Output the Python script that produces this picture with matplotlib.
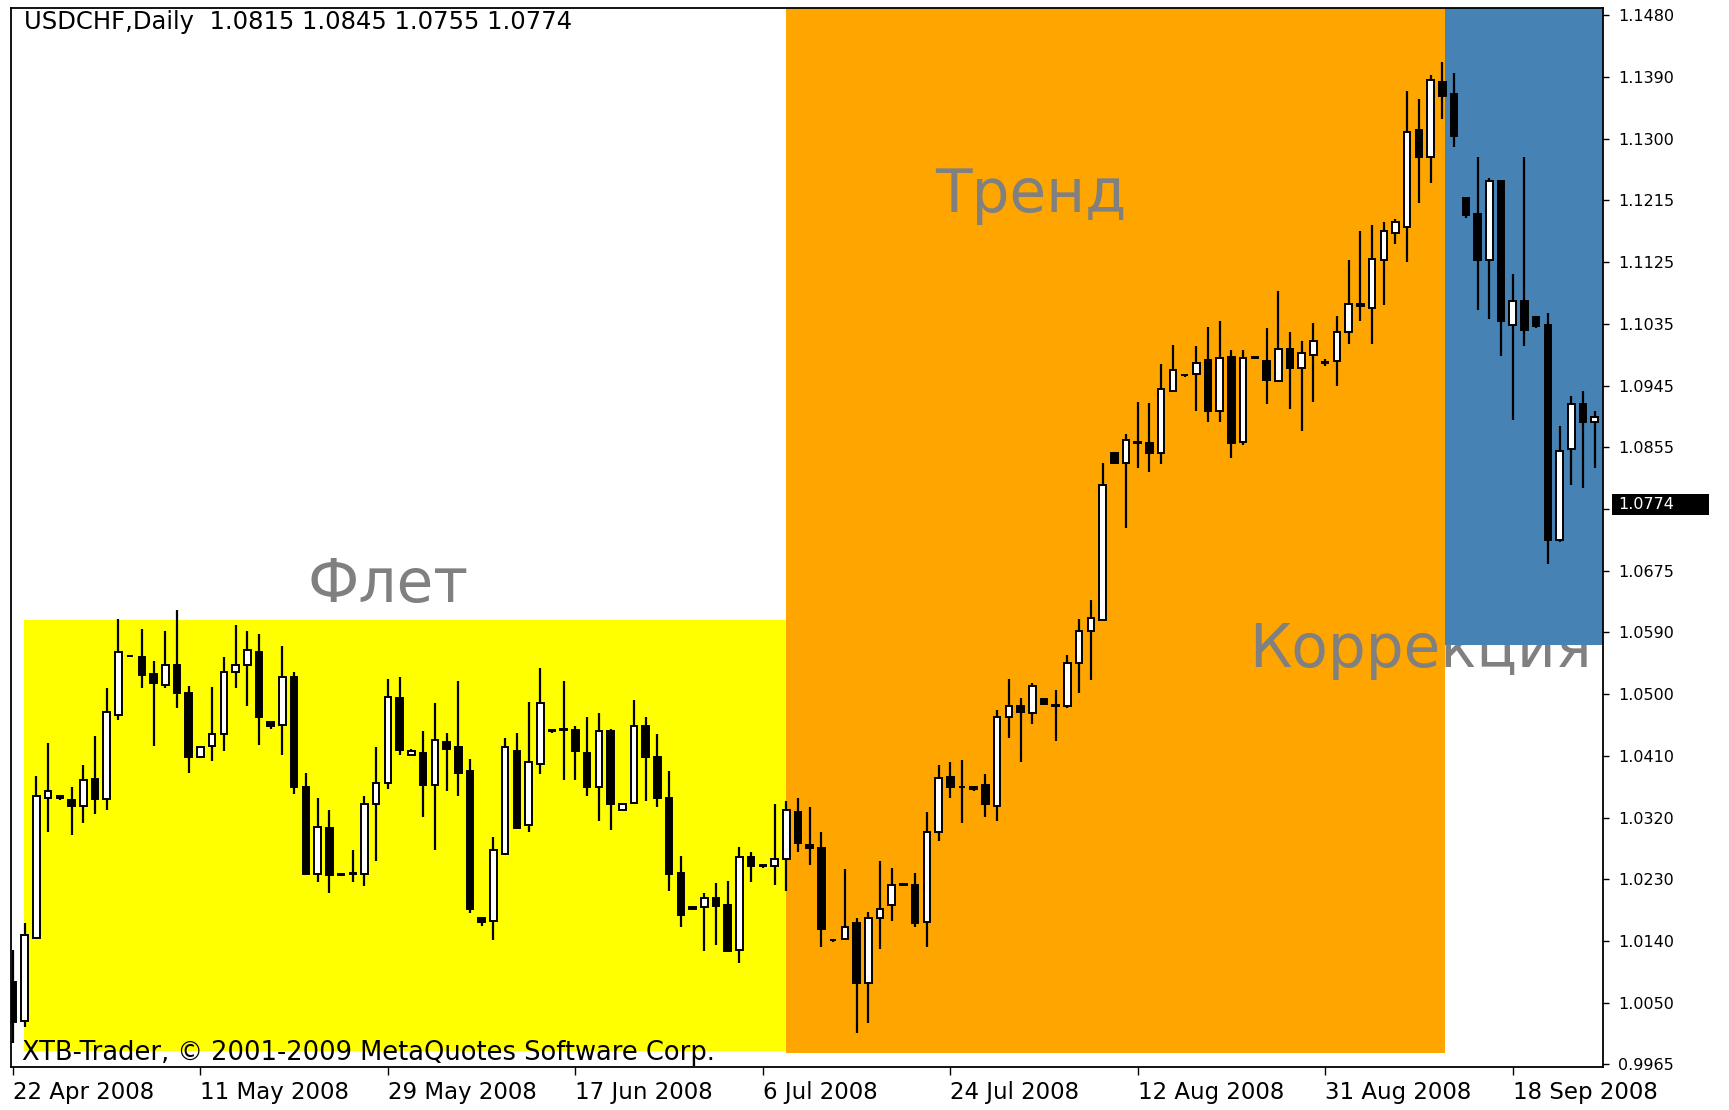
import numpy as np
import matplotlib
matplotlib.use("Agg")
import matplotlib.pyplot as plt
from matplotlib.patches import Rectangle
from matplotlib.transforms import blended_transform_factory

# USDCHF daily bars (open, high, low, close)
opens = [1.0084, 1.0027, 1.0147, 1.0349, 1.0352, 1.0347, 1.0338, 1.0377, 1.0348, 1.0470,
         1.0555, 1.0553, 1.0528, 1.0513, 1.0542, 1.0501, 1.0409, 1.0425, 1.0442, 1.0532,
         1.0542, 1.0561, 1.0459, 1.0455, 1.0524, 1.0366, 1.0240, 1.0306, 1.0239, 1.0241,
         1.0240, 1.0341, 1.0371, 1.0494, 1.0412, 1.0415, 1.0368, 1.0430, 1.0423, 1.0388,
         1.0177, 1.0172, 1.0269, 1.0418, 1.0311, 1.0399, 1.0448, 1.0449, 1.0448, 1.0414,
         1.0365, 1.0446, 1.0333, 1.0343, 1.0453, 1.0409, 1.0349, 1.0241, 1.0192, 1.0192,
         1.0205, 1.0195, 1.0130, 1.0265, 1.0252, 1.0251, 1.0262, 1.0330, 1.0282, 1.0277,
         1.0145, 1.0146, 1.0169, 1.0083, 1.0176, 1.0195, 1.0225, 1.0224, 1.0171, 1.0301,
         1.0380, 1.0366, 1.0366, 1.0368, 1.0338, 1.0467, 1.0482, 1.0472, 1.0492, 1.0484,
         1.0482, 1.0545, 1.0591, 1.0607, 1.0848, 1.0833, 1.0863, 1.0862, 1.0848, 1.0938,
         1.0961, 1.0962, 1.0982, 1.0908, 1.0987, 1.0864, 1.0986, 1.0981, 1.0952, 1.0998,
         1.0970, 1.0990, 1.0979, 1.0981, 1.1022, 1.1063, 1.1057, 1.1126, 1.1165, 1.1174,
         1.1314, 1.1275, 1.1384, 1.1367, 1.1216, 1.1193, 1.1126, 1.1240, 1.1033, 1.1067,
         1.1044, 1.1033, 1.0722, 1.0853, 1.0918, 1.0893]
highs = [1.0130, 1.0169, 1.0381, 1.0429, 1.0353, 1.0366, 1.0398, 1.0439, 1.0508, 1.0608,
         1.0556, 1.0594, 1.0548, 1.0591, 1.0621, 1.0511, 1.0425, 1.0510, 1.0553, 1.0600,
         1.0591, 1.0586, 1.0460, 1.0569, 1.0531, 1.0386, 1.0349, 1.0333, 1.0240, 1.0274,
         1.0352, 1.0424, 1.0521, 1.0524, 1.0420, 1.0447, 1.0487, 1.0444, 1.0518, 1.0406,
         1.0178, 1.0293, 1.0437, 1.0444, 1.0488, 1.0537, 1.0449, 1.0518, 1.0454, 1.0467,
         1.0472, 1.0449, 1.0342, 1.0491, 1.0467, 1.0442, 1.0388, 1.0266, 1.0193, 1.0213,
         1.0227, 1.0230, 1.0279, 1.0272, 1.0252, 1.0341, 1.0346, 1.0349, 1.0337, 1.0300,
         1.0146, 1.0247, 1.0176, 1.0185, 1.0258, 1.0249, 1.0226, 1.0241, 1.0330, 1.0397,
         1.0401, 1.0404, 1.0367, 1.0384, 1.0477, 1.0521, 1.0494, 1.0515, 1.0493, 1.0505,
         1.0556, 1.0608, 1.0635, 1.0833, 1.0849, 1.0876, 1.0922, 1.0920, 1.0976, 1.1004,
         1.0962, 1.1002, 1.1030, 1.1039, 1.0996, 1.0996, 1.0987, 1.1028, 1.1082, 1.1023,
         1.1009, 1.1036, 1.0984, 1.1045, 1.1126, 1.1169, 1.1177, 1.1181, 1.1186, 1.1370,
         1.1359, 1.1394, 1.1413, 1.1397, 1.1218, 1.1275, 1.1245, 1.1242, 1.1106, 1.1275,
         1.1045, 1.1050, 1.0887, 1.0930, 1.0938, 1.0908]
lows = [0.9996, 1.0019, 1.0146, 1.0300, 1.0347, 1.0296, 1.0313, 1.0327, 1.0332, 1.0463,
        1.0553, 1.0508, 1.0425, 1.0508, 1.0479, 1.0386, 1.0407, 1.0403, 1.0417, 1.0509,
        1.0482, 1.0426, 1.0450, 1.0412, 1.0355, 1.0240, 1.0229, 1.0212, 1.0237, 1.0229,
        1.0222, 1.0259, 1.0362, 1.0412, 1.0410, 1.0322, 1.0274, 1.0360, 1.0352, 1.0183,
        1.0165, 1.0145, 1.0267, 1.0305, 1.0300, 1.0385, 1.0444, 1.0376, 1.0376, 1.0352,
        1.0317, 1.0303, 1.0332, 1.0341, 1.0346, 1.0337, 1.0216, 1.0164, 1.0189, 1.0129,
        1.0137, 1.0129, 1.0111, 1.0229, 1.0248, 1.0224, 1.0216, 1.0272, 1.0253, 1.0135,
        1.0142, 1.0144, 1.0010, 1.0025, 1.0132, 1.0172, 1.0223, 1.0164, 1.0135, 1.0287,
        1.0349, 1.0313, 1.0360, 1.0322, 1.0317, 1.0436, 1.0402, 1.0457, 1.0485, 1.0432,
        1.0480, 1.0501, 1.0520, 1.0605, 1.0832, 1.0739, 1.0826, 1.0821, 1.0832, 1.0937,
        1.0958, 1.0908, 1.0893, 1.0893, 1.0840, 1.0860, 1.0984, 1.0919, 1.0952, 1.0912,
        1.0880, 1.0921, 1.0974, 1.0945, 1.1005, 1.1038, 1.1005, 1.1062, 1.1150, 1.1124,
        1.1209, 1.1238, 1.1330, 1.1290, 1.1187, 1.1054, 1.1042, 1.0988, 1.0896, 1.1002,
        1.1029, 1.0688, 1.0720, 1.0802, 1.0798, 1.0826]
closes = [1.0026, 1.0152, 1.0352, 1.0360, 1.0350, 1.0338, 1.0376, 1.0348, 1.0474, 1.0561,
          1.0554, 1.0527, 1.0515, 1.0542, 1.0501, 1.0409, 1.0423, 1.0442, 1.0531, 1.0542,
          1.0563, 1.0466, 1.0454, 1.0525, 1.0365, 1.0240, 1.0308, 1.0238, 1.0238, 1.0240,
          1.0341, 1.0371, 1.0496, 1.0419, 1.0418, 1.0368, 1.0433, 1.0421, 1.0386, 1.0190,
          1.0171, 1.0274, 1.0423, 1.0306, 1.0401, 1.0487, 1.0446, 1.0448, 1.0417, 1.0365,
          1.0447, 1.0341, 1.0341, 1.0453, 1.0409, 1.0349, 1.0240, 1.0181, 1.0190, 1.0205,
          1.0194, 1.0129, 1.0265, 1.0251, 1.0251, 1.0262, 1.0332, 1.0284, 1.0277, 1.0161,
          1.0144, 1.0164, 1.0083, 1.0176, 1.0190, 1.0224, 1.0224, 1.0169, 1.0300, 1.0378,
          1.0365, 1.0365, 1.0362, 1.0341, 1.0467, 1.0482, 1.0474, 1.0511, 1.0486, 1.0483,
          1.0544, 1.0591, 1.0609, 1.0802, 1.0833, 1.0867, 1.0862, 1.0848, 1.0941, 1.0968,
          1.0960, 1.0978, 1.0908, 1.0985, 1.0862, 1.0985, 1.0985, 1.0954, 1.0998, 1.0970,
          1.0992, 1.1009, 1.0978, 1.1022, 1.1063, 1.1060, 1.1128, 1.1169, 1.1181, 1.1312,
          1.1275, 1.1386, 1.1364, 1.1306, 1.1192, 1.1127, 1.1240, 1.1038, 1.1068, 1.1025,
          1.1031, 1.0722, 1.0851, 1.0919, 1.0892, 1.0900]

date_ticks = [0, 16, 32, 48, 64, 80, 96, 112, 128]
date_labels = ["22 Apr 2008", "11 May 2008", "29 May 2008", "17 Jun 2008", "6 Jul 2008",
               "24 Jul 2008", "12 Aug 2008", "31 Aug 2008", "18 Sep 2008"]
price_labels = ["1.1480", "1.1390", "1.1300", "1.1215", "1.1125", "1.1035", "1.0945",
                "1.0855", "", "1.0675", "1.0590", "1.0500", "1.0410", "1.0320", "1.0230",
                "1.0140", "1.0050", "0.9965"]
last_price = 1.0774
header = "USDCHF,Daily  1.0815 1.0845 1.0755 1.0774"
footer = "XTB-Trader, \u00a9 2001-2009 MetaQuotes Software Corp."

# highlighted zones: (x0, x1, y0, y1, colour)
flat_zone = (0.94, 66.0, 0.99842, 1.0606, "#ffff00")
trend_zone = (66.0, 122.2, 0.99813, 1.2, "#ffa500")
corr_zone = (122.2, 140.0, 1.0571, 1.2, "#4682b4")

o = np.array(opens)
h = np.array(highs)
l = np.array(lows)
c = np.array(closes)
x = np.arange(len(o))

fig = plt.figure(figsize=(17.29, 11.10), dpi=100)
ax = fig.add_axes([0.00665, 0.0387, 0.9204, 0.9544])
ax.set_xlim(-0.13, 135.7)
ax.set_ylim(0.99611, 1.1491)

for z, (x0, x1, y0, y1, col) in zip([0.5, 0.6, 2.0], [flat_zone, trend_zone, corr_zone]):
    ax.add_patch(Rectangle((x0, y0), x1 - x0, y1 - y0, facecolor=col, edgecolor="none", zorder=z))

gray = "#808080"
ax.text(32.0, 1.0657, "Флет", fontsize=43, color=gray, ha="center", va="center", zorder=1)
ax.text(86.9, 1.1220, "Тренд", fontsize=43, color=gray, ha="center", va="center", zorder=1)
ax.text(120.1, 1.0563, "Коррекция", fontsize=43, color=gray, ha="center", va="center", zorder=1)

# candles
up = c >= o
ax.vlines(x, l, h, color="black", linewidth=1.6, zorder=3)
body_low = np.minimum(o, c)
body_h = np.maximum(np.abs(c - o), 0.00012)
ax.bar(x, body_h, 0.56, bottom=body_low, color=np.where(up, "white", "black"),
       edgecolor="black", linewidth=1.4, zorder=4)

# axes styling
for s in ax.spines.values():
    s.set_linewidth(1.3)
    s.set_zorder(6)
ax.yaxis.tick_right()
ax.set_yticks(np.linspace(1.1480, 0.9965, 18))
ax.set_yticklabels(price_labels)
ax.tick_params(axis="y", direction="out", length=4, width=1, pad=7, labelsize=11.5)
ax.set_xticks(date_ticks)
ax.set_xticklabels(date_labels, ha="left")
ax.tick_params(axis="x", direction="out", length=6, width=1, pad=4, labelsize=16.5)

# current price marker
tr = blended_transform_factory(ax.transAxes, ax.transData)
ax.add_patch(Rectangle((1.0057, last_price - 0.00152), 0.061, 0.00303, transform=tr,
                       facecolor="black", edgecolor="none", clip_on=False, zorder=10))
ax.text(1.0095, last_price, f"{last_price:.4f}", transform=tr, color="white", fontsize=11.5,
        ha="left", va="center", zorder=11, clip_on=False)

ax.text(0.0079, 0.9865, header, transform=ax.transAxes, fontsize=17.5, ha="left", va="center", zorder=7)
ax.text(0.0066, 0.0133, footer, transform=ax.transAxes, fontsize=18.5, ha="left", va="center", zorder=7)

fig.savefig("out.png", dpi=100, facecolor="white")
